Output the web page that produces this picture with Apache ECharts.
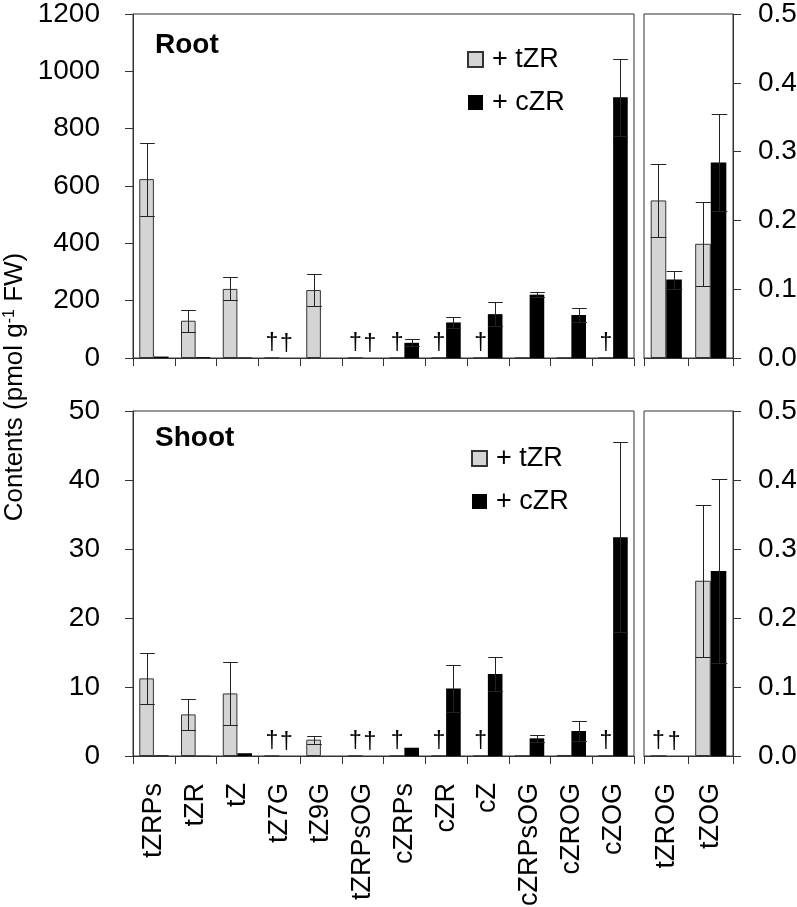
<!DOCTYPE html>
<html><head><meta charset="utf-8">
<script src="https://cdn.jsdelivr.net/npm/echarts@6/dist/echarts.min.js"></script>
<style>html,body{margin:0;padding:0;background:#fff}#c{width:797px;height:907px}</style>
</head><body><div id="c"></div>
<script>
const FONT = 'Liberation Sans, Arial, sans-serif';
const mainCats = ['tZRPs','tZR','tZ','tZ7G','tZ9G','tZRPsOG','cZRPs','cZR','cZ','cZRPsOG','cZROG','cZOG'];
const sideCats = ['tZROG','tZOG'];
const seriesNames = ['+ tZR','+ cZR'];

// Root, main panel (left axis, pmol g-1 FW)
const rootMainT    = [624, 130, 241, 0, 237, 0, 0, 0, 0, 0, 0, 0];
const rootMainTErr = [127, 38, 40, 0, 55, 0, 0, 0, 0, 0, 0, 0];
const rootMainTNd  = [0, 0, 0, 1, 0, 1, 1, 1, 1, 0, 0, 1];
const rootMainC    = [5, 3, 2, 0, 0, 0, 53, 124, 153, 221, 150, 910];
const rootMainCErr = [0, 0, 0, 0, 0, 0, 12, 20, 43, 9, 25, 134];
const rootMainCNd  = [0, 0, 0, 1, 0, 1, 0, 0, 0, 0, 0, 0];
// Root, side panel (right axis)
const rootSideT    = [0.229, 0.166];
const rootSideTErr = [0.053, 0.061];
const rootSideTNd  = [0, 0];
const rootSideC    = [0.114, 0.284];
const rootSideCErr = [0.013, 0.071];
const rootSideCNd  = [0, 0];
// Shoot, main panel
const shootMainT    = [11.25, 6.03, 9.07, 0, 2.37, 0, 0, 0, 0, 0, 0.15, 0];
const shootMainTErr = [3.7, 2.2, 4.6, 0, 0.6, 0, 0, 0, 0, 0, 0, 0];
const shootMainTNd  = [0, 0, 0, 1, 0, 1, 1, 1, 1, 0, 0, 1];
const shootMainC    = [0.1, 0.05, 0.4, 0, 0, 0, 1.2, 9.8, 11.87, 2.56, 3.62, 31.7];
const shootMainCErr = [0, 0, 0, 0, 0, 0, 0, 3.4, 2.5, 0.55, 1.5, 13.8];
const shootMainCNd  = [0, 0, 0, 1, 0, 1, 0, 0, 0, 0, 0, 0];
// Shoot, side panel
const shootSideT    = [0, 0.254];
const shootSideTErr = [0, 0.11];
const shootSideTNd  = [1, 0];
const shootSideC    = [0, 0.268];
const shootSideCErr = [0, 0.133];
const shootSideCNd  = [1, 0];

const GRAY = '#d4d4d4', EDGE = '#333';
const BAR_FRAC = 0.35; // each bar = 35% of category (30% category gap, 0 gap between bars)

function barData(vals, nd) {
  return vals.map((v, i) => nd[i] ? {
    value: 0,
    label: { show: true, formatter: '\u2020', position: 'top', distance: 2,
             fontSize: 23, color: '#000', fontFamily: FONT }
  } : v);
}
function barSeries(name, gi, vals, nd, isGray) {
  return {
    name, type: 'bar', xAxisIndex: gi, yAxisIndex: gi,
    barCategoryGap: '30%', barGap: '0%',
    itemStyle: isGray ? { color: GRAY, borderColor: EDGE, borderWidth: 1 }
                      : { color: '#000', borderColor: '#000', borderWidth: 0 },
    data: barData(vals, nd), z: 2, silent: true
  };
}
function errSeries(gi, vals, errs, side) {
  return {
    type: 'custom', xAxisIndex: gi, yAxisIndex: gi, z: 5, silent: true,
    encode: { x: 0, y: 1 },
    data: vals.map((v, i) => [i, v, errs[i]]),
    renderItem: function (params, api) {
      const i = api.value(0), v = api.value(1), e = api.value(2);
      if (!e) return null;
      const bw = api.size([1, 0])[0];
      const barW = bw * BAR_FRAC;
      const top = api.coord([i, v + e]);
      const bot = api.coord([i, Math.max(0, v - e)]);
      const x = Math.round(top[0] + side * barW / 2) + 0.5;
      const hw = barW / 2;
      const yt = Math.round(top[1]) + 0.5, yb = Math.round(bot[1]) + 0.5;
      const st = { stroke: '#222', lineWidth: 1 };
      return { type: 'group', children: [
        { type: 'line', shape: { x1: x, y1: yt, x2: x, y2: yb }, style: st },
        { type: 'line', shape: { x1: x - hw, y1: yt, x2: x + hw, y2: yt }, style: st },
        { type: 'line', shape: { x1: x - hw, y1: yb, x2: x + hw, y2: yb }, style: st }
      ]};
    }
  };
}

const lineStyle = { color: EDGE, width: 1 };
function xAxisDef(gi, cats, showLabels) {
  return {
    type: 'category', gridIndex: gi, data: cats,
    axisLine: { show: true, lineStyle },
    axisTick: { show: true, length: 8, lineStyle, alignWithLabel: false },
    axisLabel: { show: showLabels, rotate: 90, interval: 0, margin: 27,
                 fontSize: 27, color: '#000', fontFamily: FONT },
    splitLine: { show: false }
  };
}
function yAxisDef(gi, max, interval, pos, dec, margin) {
  return {
    type: 'value', gridIndex: gi, min: 0, max, interval, position: pos,
    axisLine: { show: true, lineStyle },
    axisTick: { show: true, length: 8, lineStyle, inside: false },
    axisLabel: { fontSize: 28, color: '#000', fontFamily: FONT, margin,
                 formatter: v => dec ? v.toFixed(dec) : String(v) },
    splitLine: { show: false }
  };
}

const gridBase = { show: true, borderColor: EDGE, borderWidth: 1, containLabel: false, outerBoundsMode: 'none' };
const legendBase = {
  data: seriesNames, orient: 'vertical', icon: 'rect', itemWidth: 15, itemHeight: 15,
  itemGap: 14, padding: 0, selectedMode: false,
  textStyle: { fontSize: 27, lineHeight: 29, color: '#000', fontFamily: FONT, padding: [0, 0, 0, 4] }
};

const option = {
  animation: false,
  backgroundColor: '#fff',
  title: [
    { text: 'Root', left: 155, top: 31, padding: 0,
      textStyle: { fontSize: 28, fontWeight: 'bold', color: '#000', fontFamily: FONT } },
    { text: 'Shoot', left: 155, top: 424, padding: 0,
      textStyle: { fontSize: 28, fontWeight: 'bold', color: '#000', fontFamily: FONT } }
  ],
  legend: [
    Object.assign({ left: 467, top: 45 }, legendBase),
    Object.assign({ left: 471, top: 444 }, legendBase)
  ],
  grid: [
    Object.assign({ left: 133, top: 14, width: 501, height: 344 }, gridBase),
    Object.assign({ left: 644, top: 14, width: 89, height: 344 }, gridBase),
    Object.assign({ left: 133, top: 411, width: 501, height: 345 }, gridBase),
    Object.assign({ left: 644, top: 411, width: 89, height: 345 }, gridBase)
  ],
  xAxis: [
    xAxisDef(0, mainCats, false),
    xAxisDef(1, sideCats, false),
    xAxisDef(2, mainCats, true),
    xAxisDef(3, sideCats, true)
  ],
  yAxis: [
    yAxisDef(0, 1200, 200, 'left', 0, 33),
    yAxisDef(1, 0.5, 0.1, 'right', 1, 25),
    yAxisDef(2, 50, 10, 'left', 0, 33),
    yAxisDef(3, 0.5, 0.1, 'right', 1, 25)
  ],
  graphic: [{
    type: 'text', x: 15, y: 387, rotation: Math.PI / 2,
    style: {
      text: 'Contents (pmol g{s|-1} FW)',
      fontSize: 26, fontFamily: FONT, fill: '#000',
      align: 'center', verticalAlign: 'middle',
      rich: { s: { fontSize: 16, verticalAlign: 'top', fontFamily: FONT, fill: '#000', lineHeight: 14 } }
    }
  }],
  series: [
    barSeries(seriesNames[0], 0, rootMainT, rootMainTNd, true),
    barSeries(seriesNames[1], 0, rootMainC, rootMainCNd, false),
    barSeries(seriesNames[0], 1, rootSideT, rootSideTNd, true),
    barSeries(seriesNames[1], 1, rootSideC, rootSideCNd, false),
    barSeries(seriesNames[0], 2, shootMainT, shootMainTNd, true),
    barSeries(seriesNames[1], 2, shootMainC, shootMainCNd, false),
    barSeries(seriesNames[0], 3, shootSideT, shootSideTNd, true),
    barSeries(seriesNames[1], 3, shootSideC, shootSideCNd, false),
    errSeries(0, rootMainT, rootMainTErr, -1),
    errSeries(0, rootMainC, rootMainCErr, 1),
    errSeries(1, rootSideT, rootSideTErr, -1),
    errSeries(1, rootSideC, rootSideCErr, 1),
    errSeries(2, shootMainT, shootMainTErr, -1),
    errSeries(2, shootMainC, shootMainCErr, 1),
    errSeries(3, shootSideT, shootSideTErr, -1),
    errSeries(3, shootSideC, shootSideCErr, 1)
  ]
};
const chart = echarts.init(document.getElementById('c'));
chart.setOption(option);
</script>
</body></html>
